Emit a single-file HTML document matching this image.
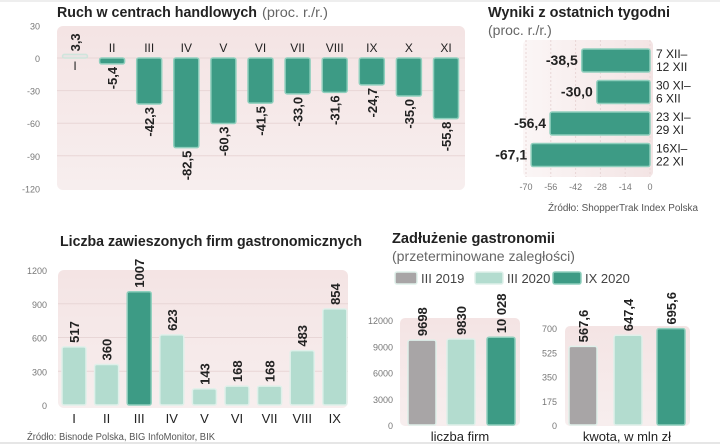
<!DOCTYPE html>
<html><head><meta charset="utf-8"><style>
body{margin:0;background:#fff;width:720px;height:444px;overflow:hidden;font-family:"Liberation Sans",sans-serif}
svg{display:block}
</style></head><body>
<svg id="s" width="720" height="444" xmlns="http://www.w3.org/2000/svg">
<defs>
<linearGradient id="bg" x1="0" y1="0" x2="0" y2="1"><stop offset="0" stop-color="#f4e4e4"/><stop offset="1" stop-color="#f7eeee"/></linearGradient>
<linearGradient id="bgh" x1="0" y1="0" x2="1" y2="0"><stop offset="0" stop-color="#fbf6f6"/><stop offset="1" stop-color="#f3e4e4"/></linearGradient>
</defs>
<line x1="0" y1="1" x2="720" y2="1" stroke="#ddd"/>
<text x="57" y="17" font-size="15" font-weight="bold" fill="#222" textLength="200" lengthAdjust="spacingAndGlyphs">Ruch w centrach handlowych</text>
<text x="262" y="17" font-size="14" fill="#666" textLength="66" lengthAdjust="spacingAndGlyphs">(proc. r./r.)</text>
<rect x="57" y="26" width="408" height="164" rx="6" fill="url(#bg)"/>
<text x="488" y="17" font-size="15" font-weight="bold" fill="#222" textLength="182" lengthAdjust="spacingAndGlyphs">Wyniki z ostatnich tygodni</text>
<text x="488" y="35" font-size="14" fill="#666">(proc. r./r.)</text>
<rect x="523" y="40" width="130" height="137" rx="5" fill="url(#bgh)"/>
<text x="548" y="211" font-size="10" fill="#555" textLength="150" lengthAdjust="spacingAndGlyphs">Źródło: ShopperTrak Index Polska</text>
<text x="60" y="246" font-size="15" font-weight="bold" fill="#222" textLength="302" lengthAdjust="spacingAndGlyphs">Liczba zawieszonych firm gastronomicznych</text>
<rect x="58" y="270" width="290" height="138" rx="6" fill="url(#bg)"/>
<text x="27" y="440" font-size="10" fill="#555" textLength="188" lengthAdjust="spacingAndGlyphs">Źródło: Bisnode Polska, BIG InfoMonitor, BIK</text>
<text x="392" y="243" font-size="15" font-weight="bold" fill="#222" textLength="163" lengthAdjust="spacingAndGlyphs">Zadłużenie gastronomii</text>
<text x="392" y="261" font-size="14" fill="#666" textLength="183" lengthAdjust="spacingAndGlyphs">(przeterminowane zaległości)</text>
<rect x="400" y="318" width="120" height="108" rx="5" fill="url(#bg)"/>
<rect x="565" y="326" width="125" height="100" rx="5" fill="url(#bg)"/>
<text x="460" y="441" font-size="13" fill="#222" text-anchor="middle">liczba firm</text>
<text x="627" y="441" font-size="13" fill="#222" text-anchor="middle">kwota, w mln zł</text>
<line x1="0" y1="443" x2="720" y2="443" stroke="#ccc"/>
<g id="g"></g>
</svg>
<script>
// Chart 1
const c1Cats=["I","II","III","IV","V","VI","VII","VIII","IX","X","XI"];
const c1Vals=[3.3,-5.4,-42.3,-82.5,-60.3,-41.5,-33.0,-31.6,-24.7,-35.0,-55.8];
const c1Labels=["3,3","-5,4","-42,3","-82,5","-60,3","-41,5","-33,0","-31,6","-24,7","-35,0","-55,8"];
const c1Ticks=[30,0,-30,-60,-90,-120];
// Chart 2
const c2Cats=[["7 XII–","12 XII"],["30 XI–","6 XII"],["23 XI–","29 XI"],["16XI–","22 XI"]];
const c2Vals=[-38.5,-30.0,-56.4,-67.1];
const c2Labels=["-38,5","-30,0","-56,4","-67,1"];
const c2Ticks=[-70,-56,-42,-28,-14,0];
// Chart 3
const c3Cats=["I","II","III","IV","V","VI","VII","VIII","IX"];
const c3Vals=[517,360,1007,623,143,168,168,483,854];
const c3Ticks=[0,300,600,900,1200];
// Chart 4
const c4Series=["III 2019","III 2020","IX 2020"];
const c4aVals=[9698,9830,10028];
const c4aLabels=["9698","9830","10 028"];
const c4aTicks=[0,3000,6000,9000,12000];
const c4bVals=[567.6,647.4,695.6];
const c4bLabels=["567,6","647,4","695,6"];
const c4bTicks=[0,175,350,525,700];

const NS="http://www.w3.org/2000/svg",G=document.getElementById('g');
const DK="#3d9b85",LT="#b3dccf",GR="#a8a5a6";
function mk(t,a,txt){const e=document.createElementNS(NS,t);for(const k in a)e.setAttribute(k,a[k]);if(txt!==undefined)e.textContent=txt;G.appendChild(e);return e;}
function bar(x,y,w,h,fill){return mk('rect',{x:x,y:y,width:w,height:Math.max(h,1),rx:2,fill:fill,stroke:fill===DK?"#8fcfbd":"#dff0ea","stroke-width":1.5});}

// chart 1
const y1=v=>58-(v)*32.6/30, x1=i=>75+i*37.1;
c1Ticks.forEach(t=>{const e=mk('text',{x:40,y:y1(t)+4,'font-size':9,fill:'#777','text-anchor':'end'},t);


if(t!==30&&t!==-120){const l=mk('line',{x1:57,x2:465,y1:y1(t),y2:y1(t),stroke:'#e8d6d6'});}});
c1Vals.forEach((v,i)=>{const cx=x1(i),w=25;
const top=Math.min(y1(v),y1(0)),h=Math.abs(y1(v)-y1(0));
const b=bar(cx-w/2,top,w,h,v>0?"#e9e4e4":DK);
if(v>0)b.setAttribute('stroke','#cfe5dc');


const cy=v>0?70:52;
const c=mk('text',{x:cx,y:cy,'font-size':12,fill:'#222','text-anchor':'middle'},c1Cats[i]);


const ly=v>0?y1(v)-3:y1(v)+3;
const lab=mk('text',{transform:`translate(${cx+5},${ly}) rotate(-90)`,'font-size':13,'font-weight':'bold',fill:'#222','text-anchor':v>0?'start':'end'},c1Labels[i]);

});

// chart 2
const x2=v=>650+v*124/70, y2=i=>60+i*31.5;
c2Ticks.forEach(t=>{const e=mk('text',{x:x2(t),y:190,'font-size':9,fill:'#777','text-anchor':'middle'},t);


const l=mk('line',{x1:x2(t),x2:x2(t),y1:40,y2:177,stroke:'#e8d6d6','stroke-dasharray':'2,2'});

});
c2Vals.forEach((v,i)=>{const b=bar(x2(v),y2(i)-11,x2(0)-x2(v),23,DK);


const lab=mk('text',{x:x2(v)-4,y:y2(i)+5,'font-size':14,'font-weight':'bold',fill:'#222','text-anchor':'end'},c2Labels[i]);


c2Cats[i].forEach((s,j)=>{const e=mk('text',{x:656,y:y2(i)-2+j*13,'font-size':12,fill:'#222'},s);

});});

// chart 3
const y3=v=>405-v*135/1200, x3=i=>74+i*32.6;
c3Ticks.forEach(t=>{const e=mk('text',{x:47,y:y3(t)+4,'font-size':9,fill:'#777','text-anchor':'end'},t);


if(t>0&&t<1200){const l=mk('line',{x1:58,x2:348,y1:y3(t),y2:y3(t),stroke:'#e8d6d6'});}});
c3Vals.forEach((v,i)=>{const cx=x3(i),w=24;
const b=bar(cx-w/2,y3(v),w,y3(0)-y3(v),i===2?DK:LT);


const lab=mk('text',{transform:`translate(${cx+5},${y3(v)-4}) rotate(-90)`,'font-size':13,'font-weight':'bold',fill:'#222'},v);


const c=mk('text',{x:cx,y:423,'font-size':13,fill:'#222','text-anchor':'middle'},c3Cats[i]);

});

// chart 4 legend
const cols=[GR,LT,DK], lx=[395,475,553];
c4Series.forEach((s,i)=>{const r=bar(lx[i],272,i===0?22:28,12,cols[i]);


const t=mk('text',{x:lx[i]+(i===0?26:32),y:283,'font-size':13,fill:'#444'},s);

});
function small(vals,labels,ticks,max,top,cxs,tx,name){
const y=v=>425-v*(425-top)/max;
ticks.forEach(t=>{const e=mk('text',{x:tx,y:y(t)+4,'font-size':9,fill:'#777','text-anchor':'end'},t);

});
vals.forEach((v,i)=>{const b=bar(cxs[i]-14,y(v),28,y(0)-y(v),cols[i]);


const l=mk('text',{transform:`translate(${cxs[i]+5},${y(v)-4}) rotate(-90)`,'font-size':13,'font-weight':'bold',fill:'#222'},labels[i]);

});}
small(c4aVals,c4aLabels,c4aTicks,12000,320,[422,461,501],393,'chart4a');
small(c4bVals,c4bLabels,c4bTicks,700,328,[583,628,671],557,'chart4b');
</script>
</body></html>
